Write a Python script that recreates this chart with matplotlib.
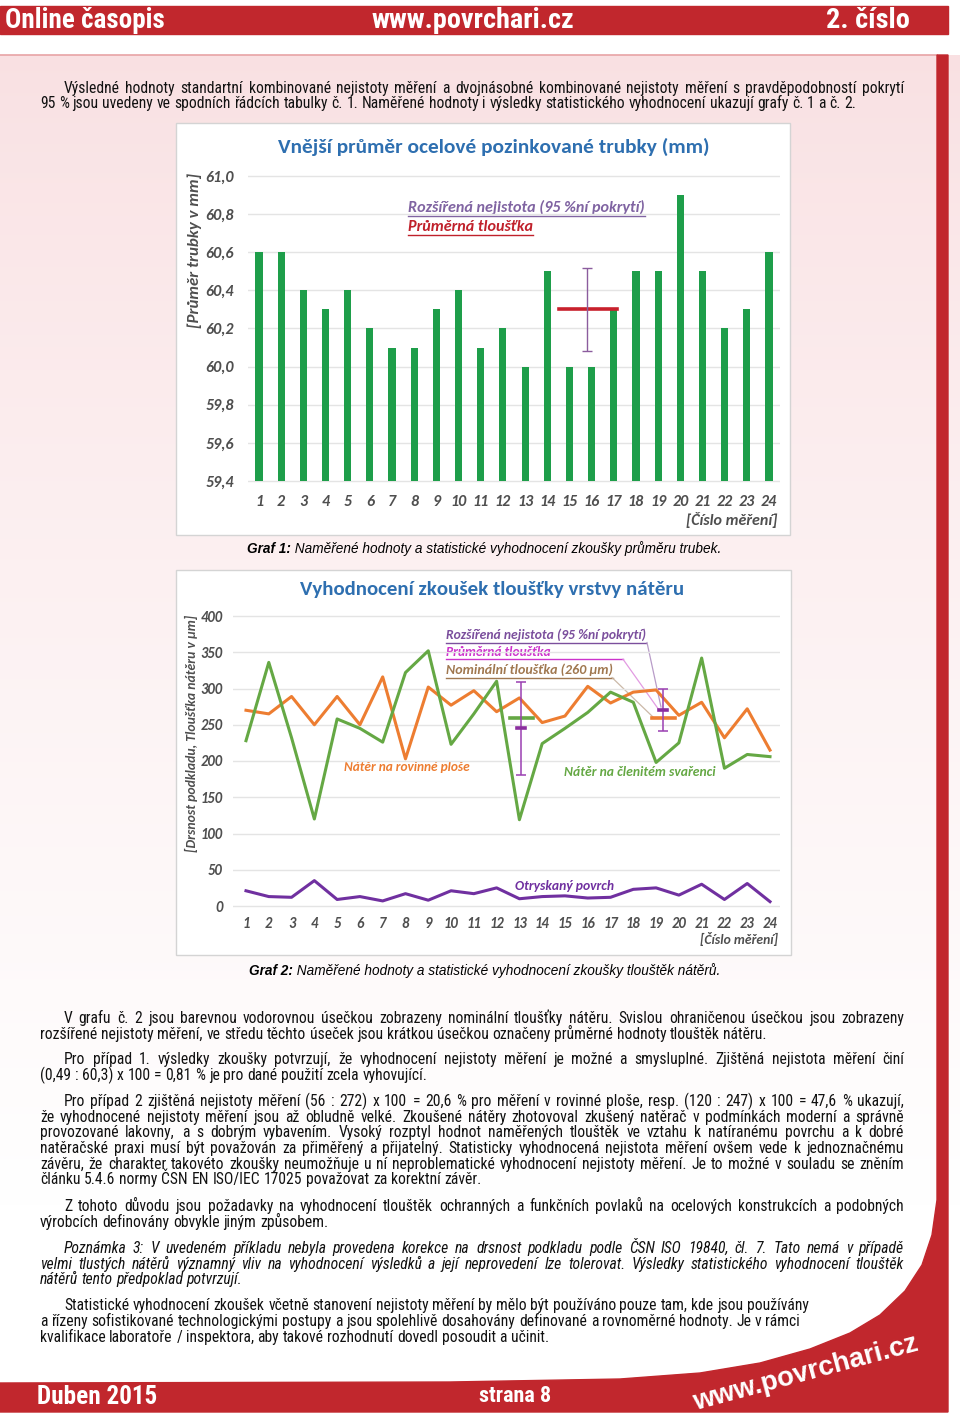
import numpy as np
import matplotlib
matplotlib.use('Agg')
import matplotlib.pyplot as plt
from matplotlib import font_manager as fm
from matplotlib.patches import Rectangle, Polygon

# ---- graf 1: vnejsi prumer trubky ----
mereni = list(range(1, 25))
prumer = [60.6, 60.6, 60.4, 60.3, 60.4, 60.2, 60.1, 60.1, 60.3, 60.4, 60.1, 60.2,
          60.0, 60.5, 60.0, 60.0, 60.3, 60.5, 60.5, 60.9, 60.5, 60.2, 60.3, 60.6]
prumer_stred = 60.3
prumer_nejistota = 0.22
y_ticks1 = [59.4, 59.6, 59.8, 60.0, 60.2, 60.4, 60.6, 60.8, 61.0]

# ---- graf 2: tloustka nateru ----
rovinna = [270, 265, 289, 250, 289, 250, 316, 203, 302, 277, 297, 268,
           287, 253, 262, 303, 280, 295, 298, 263, 281, 232, 272, 215]
clenity = [228, 336, 232, 120, 258, 245, 226, 322, 352, 223, 265, 310,
           119, 224, 245, 267, 295, 281, 198, 225, 342, 190, 209, 206]
otryskany = [21, 13, 12, 35, 9, 13, 7, 17, 8, 21, 17, 25,
             10, 13, 14, 11, 12, 23, 25, 15, 30, 9, 31, 6]
nominalni = 260
clenity_stred, clenity_nejistota = 245, 64
rovinna_stred, rovinna_nejistota = 271, 29
y_ticks2 = [0, 50, 100, 150, 200, 250, 300, 350, 400]

# ---- text stranky ----
RIGHT = 904
body = [
    ("Výsledné hodnoty standartní kombinované nejistoty měření a dvojnásobné kombinované nejistoty měření s pravděpodobností pokrytí", 64, 93, True, 'normal'),
    ("95 % jsou uvedeny ve spodních řádcích tabulky č. 1. Naměřené hodnoty i výsledky statistického vyhodnocení ukazují grafy č. 1 a č. 2.", 40, 108, False, 'normal'),
    ("V grafu č. 2 jsou barevnou vodorovnou úsečkou zobrazeny nominální tloušťky nátěru. Svislou ohraničenou úsečkou jsou zobrazeny", 64, 1023, True, 'normal'),
    ("rozšířené nejistoty měření, ve středu těchto úseček jsou krátkou úsečkou označeny průměrné hodnoty tlouštěk nátěru.", 40, 1039, False, 'normal'),
    ("Pro případ 1. výsledky zkoušky potvrzují, že vyhodnocení nejistoty měření je možné a smysluplné. Zjištěná nejistota měření činí", 64, 1064, True, 'normal'),
    ("(0,49 : 60,3) x 100 = 0,81 % je pro dané použití zcela vyhovující.", 40, 1080, False, 'normal'),
    ("Pro případ 2 zjištěná nejistoty měření (56 : 272) x 100 = 20,6 % pro měření v rovinné ploše, resp. (120 : 247) x 100 = 47,6 % ukazují,", 64, 1106, True, 'normal'),
    ("že vyhodnocené nejistoty měření jsou až obludně velké. Zkoušené nátěry zhotovoval zkušený natěrač v podmínkách moderní a správně", 40, 1122, True, 'normal'),
    ("provozované lakovny, a s dobrým vybavením. Vysoký rozptyl hodnot naměřených tlouštěk ve vztahu k natíranému povrchu a k dobré", 40, 1137, True, 'normal'),
    ("natěračské praxi musí být považován za přiměřený a přijatelný. Statisticky vyhodnocená nejistota měření ovšem vede k jednoznačnému", 40, 1153, True, 'normal'),
    ("závěru, že charakter takovéto zkoušky neumožňuje u ní neproblematické vyhodnocení nejistoty měření. Je to možné v souladu se zněním", 40, 1169, True, 'normal'),
    ("článku 5.4.6 normy ČSN EN ISO/IEC 17025 považovat za korektní závěr.", 40, 1184, False, 'normal'),
    ("Z tohoto důvodu jsou požadavky na vyhodnocení tlouštěk ochranných a funkčních povlaků na ocelových konstrukcích a podobných", 64, 1211, True, 'normal'),
    ("výrobcích definovány obvykle jiným způsobem.", 40, 1227, False, 'normal'),
    ("Poznámka 3: V uvedeném příkladu nebyla provedena korekce na drsnost podkladu podle ČSN ISO 19840, čl. 7. Tato nemá v případě", 64, 1253, True, 'italic'),
    ("velmi tlustých nátěrů významný vliv na vyhodnocení výsledků a její neprovedení lze tolerovat. Výsledky statistického vyhodnocení tlouštěk", 40, 1269, True, 'italic'),
    ("nátěrů tento předpoklad potvrzují.", 40, 1284, False, 'italic'),
    ("Statistické vyhodnocení zkoušek včetně stanovení nejistoty měření by mělo být používáno pouze tam, kde jsou používány", 64, 1310, False, 'normal'),
    ("a řízeny sofistikované technologickými postupy a jsou spolehlivě dosahovány definované a rovnoměrné hodnoty. Je v rámci", 40, 1326, False, 'normal'),
    ("kvalifikace laboratoře / inspektora, aby takové rozhodnutí dovedl posoudit a učinit.", 40, 1342, False, 'normal'),
]

names = {f.name for f in fm.fontManager.ttflist}
def pick(options):
    return next((n for n in options if n in names), 'DejaVu Sans')
body_font = pick(['Liberation Sans Narrow', 'Roboto Condensed', 'Liberation Sans', 'Arial'])
head_font = body_font
wide_font = pick(['Liberation Sans', 'Arial', 'DejaVu Sans'])
chart_font = pick(['Carlito', 'Lato', 'Open Sans'])

RED = '#c1272d'
GRAY = '#4f4f4f'
ORANGE = '#ed7d31'
GREEN = '#65a844'
PURPLE = '#7030a0'
BAR_GREEN = '#1e9e4a'

W, H = 960, 1417
fig = plt.figure(figsize=(W / 100, H / 100), dpi=100)
bg = fig.add_axes([0, 0, 1, 1], zorder=0)
renderer = fig.canvas.get_renderer()

# pozadi stranky
grad = np.ones((H, 1, 3))
k = np.clip((np.arange(H) - 55) / 1150, 0, 1) ** 0.8
pink = np.array([249, 224, 226]) / 255
grad[:, 0, :] = pink + (1 - pink) * k[:, None]
grad[:55] = 1
bg.imshow(grad, extent=(0, W, H, 0), aspect='auto', zorder=0)
bg.set_xlim(0, W)
bg.set_ylim(H, 0)
bg.axis('off')

bg.add_patch(Rectangle((0, 6), 948, 28, color=RED, zorder=1))
bg.plot([0, 937], [55, 55], color='#e8a3a5', lw=1.2, zorder=1)
red_pts = [(0, 1383), (450, 1382), (620, 1379), (700, 1373), (760, 1363), (810, 1349),
           (850, 1333), (880, 1315), (905, 1291), (922, 1265), (932, 1235), (937, 1200),
           (937, 55), (948, 55), (948, 1412), (0, 1412)]
bg.add_patch(Polygon(red_pts, closed=True, color=RED, zorder=1))


def tw(t):
    return t.get_window_extent(renderer).width


def put(x, y, s, width=None, size=10, **kw):
    kw.setdefault('va', 'center')
    kw.setdefault('zorder', 3)
    t = bg.text(x, y, s, fontsize=size, **kw)
    if width:
        t.set_fontsize(size * width / tw(t))
    return t


def underline(t, color, x_end=None, lw=1.0):
    bb = t.get_window_extent(renderer).transformed(bg.transData.inverted())
    y = max(bb.y0, bb.y1) + 1.2
    bg.plot([bb.x0, x_end if x_end else bb.x1], [y, y], color=color, lw=lw, zorder=3)
    return y


def caption(x0, x1, y, bold_part, rest):
    a = put(x0, y, bold_part, size=10, family=wide_font, style='italic', weight='bold')
    b = put(x0, y, rest, size=10, family=wide_font, style='italic')
    s = 10 * (x1 - x0) / (tw(a) + tw(b))
    a.set_fontsize(s)
    b.set_fontsize(s)
    b.set_x(x0 + tw(a))


# hlavicka a paticka
hk = dict(family=head_font, weight='bold', color='white', zorder=3)
put(5, 21, 'Online časopis', width=160, **hk)
put(372, 21, 'www.povrchari.cz', width=203, **hk)
put(826, 21, '2. číslo', width=84, **hk)
put(37, 1397, 'Duben 2015', width=120, **hk)
put(479, 1396, 'strana 8', width=72, **hk)
t = put(806, 1373, 'www.povrchari.cz', width=232, ha='center', rotation_mode='anchor',
        family=wide_font, weight='bold', color='white', zorder=3)
t.set_rotation(15)

# telo textu, do bloku
def measure(s, size, style):
    t = bg.text(0, 0, s, fontsize=size, family=body_font, style=style)
    w = tw(t)
    t.remove()
    return w

ratios = [(RIGHT - x0) / measure(s, 10, st) for s, x0, y, j, st in body if j]
ref_line = body[17]
calib = (805 - ref_line[1]) / measure(ref_line[0], 10, 'normal')
body_size = 10 * min(min(ratios) * 0.995, calib)
for s, x0, y, just, st in body:
    words = s.split(' ')
    ts = [bg.text(0, y, w, fontsize=body_size, family=body_font, style=st,
                  va='baseline', color='#111111', zorder=3) for w in words]
    ws = [tw(t) for t in ts]
    space = measure('a a', body_size, st) - measure('aa', body_size, st)
    gap = (RIGHT - x0 - sum(ws)) / (len(words) - 1) if just else space
    x = x0
    for t, w in zip(ts, ws):
        t.set_x(x)
        x += w + gap


def place(xlim, ylim, xa, ya):
    # xa, ya = (hodnota0, pixel0, hodnota1, pixel1)
    sx = (xa[3] - xa[1]) / (xa[2] - xa[0])
    left = xa[1] + (xlim[0] - xa[0]) * sx
    right = xa[1] + (xlim[1] - xa[0]) * sx
    sy = (ya[3] - ya[1]) / (ya[2] - ya[0])
    top = ya[1] + (ylim[1] - ya[0]) * sy
    bottom = ya[1] + (ylim[0] - ya[0]) * sy
    ax = fig.add_axes([left / W, 1 - bottom / H, (right - left) / W, (bottom - top) / H], zorder=2)
    ax.set_xlim(xlim)
    ax.set_ylim(ylim)
    ax.patch.set_alpha(0)
    for sp in ax.spines.values():
        sp.set_visible(False)
    return ax


tick_kw = dict(fontfamily=chart_font, fontstyle='italic', fontweight='bold', color=GRAY)
lab_kw = dict(family=chart_font, style='italic', weight='bold', color=GRAY)

# ================= Graf 1 =================
bg.add_patch(Rectangle((176, 123), 614, 412, fc='white', ec='#d4d4d4', lw=1, zorder=1))
ax1 = place((0.5, 24.5), (59.39, 61.01), (1, 259, 24, 769), (59.4, 481, 61.0, 176))
ax1.bar(mereni, [p - 59.4 for p in prumer], bottom=59.4, width=0.32, color=BAR_GREEN, zorder=2)
ax1.errorbar([15.8], [prumer_stred], yerr=[prumer_nejistota], fmt='none', ecolor='#8b5c9e',
             elinewidth=1, capsize=3.5, capthick=1, zorder=4)
ax1.plot([14.55, 17.15], [prumer_stred, prumer_stred], color='#c8202c', lw=2.6, zorder=3)
ax1.set_yticks(y_ticks1, [f'{v:.1f}'.replace('.', ',') for v in y_ticks1], fontsize=11.5, **tick_kw)
ax1.set_xticks(mereni, [str(m) for m in mereni], fontsize=11.5, **tick_kw)
ax1.tick_params(length=0)
ax1.tick_params(axis='y', pad=10)
ax1.tick_params(axis='x', pad=8.5)
ax1.grid(axis='y', color='#e4e4e4', lw=1)
ax1.set_axisbelow(True)

put(278, 147, 'Vnější průměr ocelové pozinkované trubky (mm)', width=433,
    family=chart_font, weight='semibold', color='#2e6fb0')
t = put(195, 250, '[Průměr trubky v mm]', width=155, ha='center', rotation_mode='anchor', **lab_kw)
t.set_rotation(90)
put(686, 520, '[Číslo měření]', width=92, **lab_kw)
t = put(408, 207, 'Rozšířená nejistota (95 %ní pokrytí)', width=237,
        family=chart_font, style='italic', weight='bold', color='#8064a2')
underline(t, '#8064a2')
t = put(408, 227, 'Průměrná tloušťka', width=125,
        family=chart_font, style='italic', weight='bold', color='#c0212b')
underline(t, '#c0212b')
caption(247, 722, 549, 'Graf 1:', ' Naměřené hodnoty a statistické vyhodnocení zkoušky průměru trubek.')

# ================= Graf 2 =================
bg.add_patch(Rectangle((176, 570), 615, 385, fc='white', ec='#d4d4d4', lw=1, zorder=1))
ax2 = place((0.45, 24.45), (-4, 404), (1, 246, 24, 770), (0, 906, 400, 616))
ax2.plot(mereni, rovinna, color=ORANGE, lw=2.2, zorder=3)
ax2.plot(mereni, clenity, color=GREEN, lw=2.2, zorder=3)
ax2.plot(mereni, otryskany, color=PURPLE, lw=2.2, zorder=3)
ax2.plot([12.6, 13.6], [nominalni, nominalni], color=GREEN, lw=2.6, zorder=4)
ax2.plot([18.8, 19.85], [nominalni, nominalni], color=ORANGE, lw=2.6, zorder=4)
ax2.errorbar([13.08, 19.3], [clenity_stred, rovinna_stred],
             yerr=[clenity_nejistota, rovinna_nejistota], fmt='none', ecolor='#9a3fb2',
             elinewidth=1.1, capsize=3.5, capthick=1.1, zorder=5)
for xc, yc in [(13.08, clenity_stred), (19.3, rovinna_stred)]:
    ax2.plot([xc - 0.18, xc + 0.18], [yc, yc], color='#8a2d9e', lw=2.6, zorder=5)
ax2.set_yticks(y_ticks2, [str(v) for v in y_ticks2], fontsize=10.5, **tick_kw)
ax2.set_xticks(mereni, [str(m) for m in mereni], fontsize=10.5, **tick_kw)
ax2.tick_params(length=0)
ax2.tick_params(axis='y', pad=8)
ax2.tick_params(axis='x', pad=6)
ax2.grid(axis='y', color='#e4e4e4', lw=1)
ax2.set_axisbelow(True)

put(300, 590, 'Vyhodnocení zkoušek tloušťky vrstvy nátěru', width=385,
    family=chart_font, weight='semibold', color='#2e6fb0')
t = put(191, 733, '[Drsnost podkladu, Tloušťka nátěru v µm]', width=237, ha='center',
        rotation_mode='anchor', **lab_kw)
t.set_rotation(90)
put(700, 939, '[Číslo měření]', width=78, **lab_kw)

leg_kw = dict(family=chart_font, style='italic', weight='bold')
t = put(446, 635, 'Rozšířená nejistota (95 %ní pokrytí)', width=200, color='#7b4f9d', **leg_kw)
y1 = underline(t, '#7b4f9d')
t = put(446, 652, 'Průměrná tloušťka', width=105, color='#cc33cc', **leg_kw)
y2 = underline(t, '#cc33cc', x_end=623)
t = put(446, 670, 'Nominální tloušťka (260 µm)', width=166, color='#a07850', **leg_kw)
y3 = underline(t, '#a07850')
bg.plot([647, 661], [y1, 707], color='#b89cc8', lw=0.9, zorder=3)
bg.plot([623, 659], [y2, 710], color='#e29be2', lw=0.9, zorder=3)
bg.plot([612, 653], [y3, 717], color='#cbb9a8', lw=0.9, zorder=3)

put(344, 767, 'Nátěr na rovinné ploše', width=127, color=ORANGE, **leg_kw)
put(564, 772, 'Nátěr na členitém svařenci', width=152, color=GREEN, **leg_kw)
put(515, 886, 'Otryskaný povrch', width=99, color=PURPLE, **leg_kw)
caption(249, 720, 971, 'Graf 2:', ' Naměřené hodnoty a statistické vyhodnocení zkoušky tlouštěk nátěrů.')

fig.savefig('out.png', dpi=100)
